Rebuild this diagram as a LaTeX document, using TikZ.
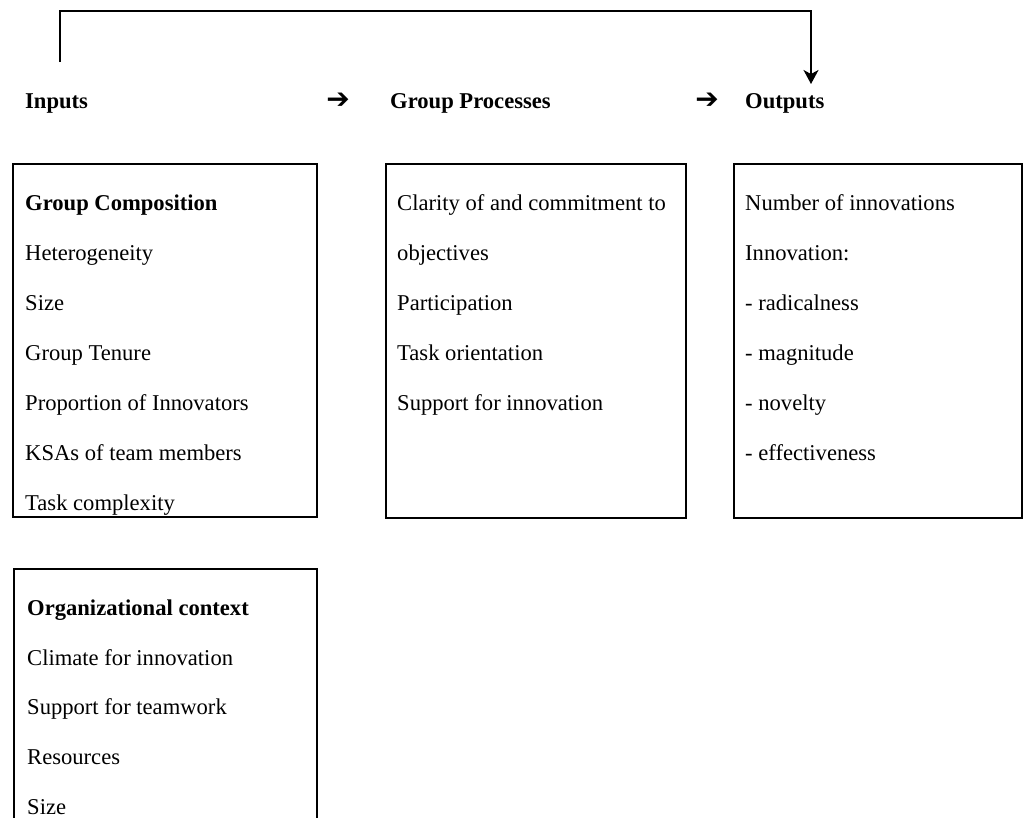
\documentclass[tikz,border=0pt]{standalone}
\usepackage{fontspec}
\setmainfont{Liberation Serif}
\newfontfamily\arrowfont{DejaVu Sans Bold}
\usetikzlibrary{arrows.meta}
\begin{document}
\begin{tikzpicture}[x=1pt,y=-1pt,
  txt/.style={anchor=base west, inner sep=0pt, font=\fontsize{22.6}{26}\selectfont},
  head/.style={anchor=base west, inner sep=0pt, font=\fontsize{22.6}{26}\selectfont\bfseries},
  flowarrow/.style={inner sep=0pt, font=\arrowfont\fontsize{28}{30}\selectfont},
  panel/.style={draw, line width=1.8pt, anchor=north west, inner sep=0pt},
  feedback/.style={draw, line width=1.8pt, -{Stealth[length=14pt,width=15pt,inset=4pt]}}]
\clip (0,0) rectangle (1024,817);

% column headings
\node[head] (inputs) at (25,108) {Inputs};
\node[flowarrow] (arr1) at (338,101) {➔};
\node[head] (processes) at (390,108) {Group Processes};
\node[flowarrow] (arr2) at (707,101) {➔};
\node[head] (outputs) at (745,108) {Outputs};

% feedback line from inputs to outputs
\coordinate (fbStart) at (60,62);
\coordinate (fbTop) at (60,11);
\coordinate (fbEnd) at (811,84);
\draw[feedback] (fbStart) -- (fbTop) -| (fbEnd);

% panels
\node[panel, minimum width=304pt, minimum height=353pt] (composition) at (12,163) {};
\node[panel, minimum width=300pt, minimum height=354pt] (groupproc) at (385,163) {};
\node[panel, minimum width=288pt, minimum height=354pt] (outcomes) at (733,163) {};
\node[panel, minimum width=303pt, minimum height=280pt] (context) at (13,568) {};

% group composition
\node[head] (gc0) at (25,210) {Group Composition};
\node[txt] (gc1) at (25,260) {Heterogeneity};
\node[txt] (gc2) at (25,310) {Size};
\node[txt] (gc3) at (25,360) {Group Tenure};
\node[txt] (gc4) at (25,410) {Proportion of Innovators};
\node[txt] (gc5) at (25,460) {KSAs of team members};
\node[txt] (gc6) at (25,510) {Task complexity};

% group processes
\node[txt] (gp1) at (397,210) {Clarity of and commitment to};
\node[txt] (gp2) at (397,260) {objectives};
\node[txt] (gp3) at (397,310) {Participation};
\node[txt] (gp4) at (397,360) {Task orientation};
\node[txt] (gp5) at (397,410) {Support for innovation};

% outputs
\node[txt] (op1) at (745,210) {Number of innovations};
\node[txt] (op2) at (745,260) {Innovation:};
\node[txt] (op3) at (745,310) {- radicalness};
\node[txt] (op4) at (745,360) {- magnitude};
\node[txt] (op5) at (745,410) {- novelty};
\node[txt] (op6) at (745,460) {- effectiveness};

% organizational context
\node[head] (oc0) at (27,615) {Organizational context};
\node[txt] (oc1) at (27,665) {Climate for innovation};
\node[txt] (oc2) at (27,714) {Support for teamwork};
\node[txt] (oc3) at (27,764) {Resources};
\node[txt] (oc4) at (27,814) {Size};
\end{tikzpicture}
\end{document}
